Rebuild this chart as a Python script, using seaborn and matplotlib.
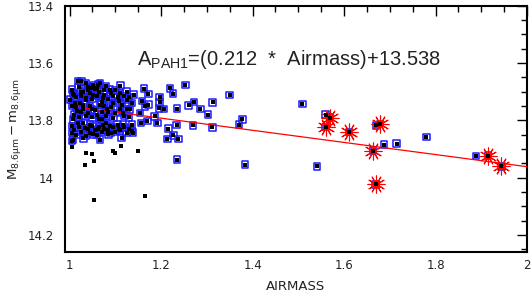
import numpy as np
import pandas as pd
import matplotlib
matplotlib.use('Agg')
import matplotlib.pyplot as plt
from matplotlib.ticker import MultipleLocator
import seaborn as sns

# airmass / magnitude of standards kept in the fit (blue boxes)
good_airmass = [
    1.036, 1.040, 1.052, 1.059, 1.076, 1.111, 1.125, 1.024, 1.008, 1.001,
    1.012, 1.096, 1.107, 1.125, 1.136, 1.158, 1.165, 1.132, 1.117, 1.154,
    1.172, 1.008, 1.019, 1.034, 1.045, 1.063, 1.074, 1.088, 1.107, 1.117,
    1.136, 1.136, 1.114, 1.085, 1.067, 1.030, 1.007, 1.005, 1.052, 1.070,
    1.096, 1.048, 1.030, 1.016, 1.067, 1.081, 1.052, 1.074, 1.037, 1.023,
    1.088, 1.067, 1.048, 1.005, 1.018, 1.026, 1.062, 1.005, 1.139,
    1.010, 1.015, 1.020, 1.025, 1.030, 1.035, 1.040, 1.045, 1.050, 1.055,
    1.060, 1.065, 1.070, 1.075, 1.080, 1.085, 1.090, 1.095, 1.100, 1.105,
    1.110, 1.115, 1.120, 1.130, 1.140,
    1.005, 1.010, 1.015, 1.020, 1.025, 1.030, 1.035, 1.040, 1.045, 1.050,
    1.055, 1.060, 1.065, 1.070, 1.075, 1.080, 1.085, 1.090, 1.100, 1.110,
    1.120, 1.125, 1.130,
    1.005, 1.010, 1.015, 1.020, 1.025, 1.030, 1.035, 1.040, 1.045, 1.050,
    1.055, 1.060, 1.065, 1.070, 1.075, 1.080, 1.085, 1.090, 1.095, 1.100,
    1.105, 1.110, 1.120, 1.125, 1.130,
    1.220, 1.253, 1.226, 1.163, 1.172, 1.197, 1.197, 1.206, 1.195, 1.235,
    1.260, 1.272, 1.286, 1.303, 1.313, 1.350, 1.186, 1.192, 1.170, 1.156,
    1.234, 1.216, 1.270, 1.312, 1.227, 1.214, 1.238, 1.378, 1.370, 1.235,
    1.383,
    1.509, 1.560, 1.670, 1.687, 1.715, 1.780, 1.541, 1.888,
    1.569, 1.560, 1.611, 1.679, 1.663, 1.669, 1.915, 1.944,
]
good_mag = [
    13.669, 13.683, 13.678, 13.687, 13.695, 13.679, 13.700, 13.702, 13.707, 13.728,
    13.739, 13.716, 13.733, 13.728, 13.739, 13.733, 13.751, 13.762, 13.774, 13.774,
    13.745, 13.797, 13.809, 13.826, 13.815, 13.832, 13.815, 13.820, 13.830, 13.815,
    13.815, 13.838, 13.861, 13.849, 13.867, 13.863, 13.867, 13.844, 13.849, 13.797,
    13.791, 13.762, 13.762, 13.768, 13.745, 13.762, 13.710, 13.722, 13.722, 13.739,
    13.693, 13.669, 13.687, 13.693, 13.662, 13.664, 13.675, 13.873, 13.843,
    13.710, 13.720, 13.685, 13.715, 13.700, 13.730, 13.695, 13.705, 13.725, 13.690,
    13.715, 13.700, 13.735, 13.710, 13.680, 13.725, 13.705, 13.740, 13.695, 13.720,
    13.705, 13.745, 13.715, 13.720, 13.710,
    13.750, 13.780, 13.755, 13.790, 13.770, 13.745, 13.785, 13.775, 13.750, 13.790,
    13.765, 13.780, 13.795, 13.770, 13.750, 13.785, 13.770, 13.755, 13.775, 13.760,
    13.785, 13.760, 13.790,
    13.820, 13.835, 13.850, 13.825, 13.840, 13.810, 13.855, 13.830, 13.845, 13.820,
    13.835, 13.850, 13.825, 13.840, 13.830, 13.810, 13.835, 13.845, 13.825, 13.840,
    13.815, 13.835, 13.825, 13.845, 13.830,
    13.688, 13.676, 13.707, 13.689, 13.708, 13.718, 13.737, 13.760, 13.758, 13.759,
    13.748, 13.736, 13.760, 13.780, 13.737, 13.711, 13.786, 13.809, 13.803, 13.809,
    13.817, 13.829, 13.818, 13.825, 13.853, 13.865, 13.865, 13.797, 13.815, 13.937,
    13.955,
    13.743, 13.780, 13.818, 13.885, 13.881, 13.859, 13.961, 13.924,
    13.791, 13.823, 13.841, 13.812, 13.906, 14.024, 13.923, 13.961,
]

# rejected measurements (black only)
rej_airmass = [1.006, 1.037, 1.050, 1.034, 1.054, 1.096, 1.100, 1.113, 1.150, 1.054, 1.165]
rej_mag = [13.892, 13.913, 13.917, 13.955, 13.941, 13.906, 13.913, 13.889, 13.906, 14.080, 14.063]

# highlighted stars (red asterisks)
star_airmass = [1.569, 1.560, 1.611, 1.679, 1.663, 1.669, 1.915, 1.944]
star_mag = [13.791, 13.823, 13.841, 13.812, 13.906, 14.024, 13.923, 13.961]

# fit line end points
fit_airmass = [1.0, 2.0]
fit_mag = [13.750, 13.962]

good = pd.DataFrame({'airmass': good_airmass, 'mag': good_mag})
rej = pd.DataFrame({'airmass': rej_airmass, 'mag': rej_mag})
stars = pd.DataFrame({'airmass': star_airmass, 'mag': star_mag})
fit = pd.DataFrame({'airmass': fit_airmass, 'mag': fit_mag})

sns.set_style('white')
plt.rcParams['font.family'] = ['DejaVu Sans']

fig = plt.figure(figsize=(5.31, 2.98), dpi=100)
ax = fig.add_axes([0.1224, 0.1544, 0.8701, 0.826])

sns.scatterplot(data=good, x='airmass', y='mag', marker='s', s=22, fc='none',
                ec='#1a1aff', linewidth=1.1, ax=ax, zorder=2)
sns.lineplot(data=fit, x='airmass', y='mag', color='red', linewidth=0.9, ax=ax, zorder=3)
sns.scatterplot(data=stars, x='airmass', y='mag', marker=(12, 2, 0), s=150,
                color='red', linewidth=0.8, ax=ax, zorder=4)
sns.scatterplot(data=good, x='airmass', y='mag', marker='s', s=6, color='black',
                linewidth=0, ax=ax, zorder=5)
sns.scatterplot(data=rej, x='airmass', y='mag', marker='s', s=6, color='black',
                linewidth=0, ax=ax, zorder=5)

ax.set_xlim(0.99, 2.0)
ax.set_ylim(14.26, 13.4)
ax.xaxis.set_major_locator(MultipleLocator(0.2))
ax.xaxis.set_minor_locator(MultipleLocator(0.05))
ax.yaxis.set_major_locator(MultipleLocator(0.2))
ax.yaxis.set_minor_locator(MultipleLocator(0.05))
ax.set_xticks([1, 1.2, 1.4, 1.6, 1.8, 2])
ax.set_xticklabels(['1', '1.2', '1.4', '1.6', '1.8', '2'])
ax.set_yticks([13.4, 13.6, 13.8, 14, 14.2])
ax.set_yticklabels(['13.4', '13.6', '13.8', '14', '14.2'])
ax.tick_params(which='both', direction='in', top=True, right=True, width=1, colors='black')
ax.tick_params(which='major', length=7, labelsize=8.5, labelcolor='#222222')
ax.tick_params(which='minor', length=4)
ax.tick_params(axis='y', which='major', pad=8)
ax.tick_params(axis='x', which='major', pad=5)
for sp in ax.spines.values():
    sp.set_color('black')
    sp.set_linewidth(1.5)

ax.set_xlabel('AIRMASS', fontsize=9.5, color='#222222', labelpad=6)
ax.set_ylabel(r'$\mathregular{M_{8.6\mu m} - m_{8.6\mu m}}$', fontsize=9.5,
              color='#222222', labelpad=3)
ax.text(0.156, 0.76, r'$\mathregular{A_{PAH1}}$=(0.212  *  Airmass)+13.538',
        transform=ax.transAxes, fontsize=14.5, family='Liberation Sans',
        color='#222222', va='baseline')

fig.savefig('out.png', dpi=100)
